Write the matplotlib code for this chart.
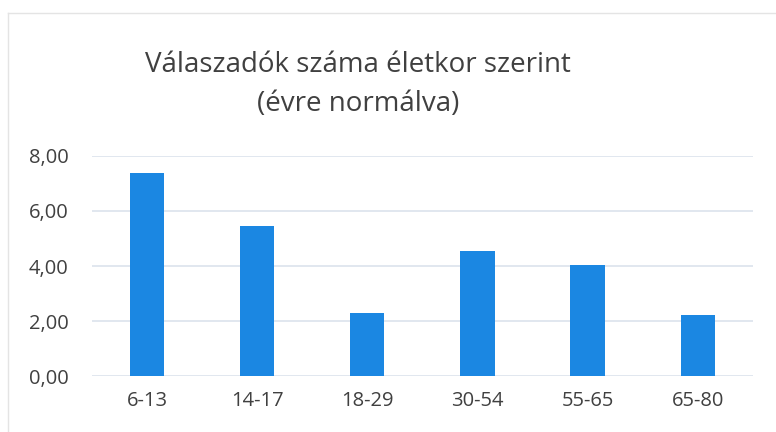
import matplotlib.pyplot as plt
import numpy as np

# age groups and respondents per year
age_groups = ['6-13', '14-17', '18-29', '30-54', '55-65', '65-80']
respondents = [7.38, 5.45, 2.30, 4.56, 4.05, 2.22]
y_ticks = [0, 2, 4, 6, 8]

plt.rcParams['font.family'] = ['Open Sans', 'DejaVu Sans']

fig = plt.figure(figsize=(7.76, 4.32), dpi=100)
ax = fig.add_axes([0.1186, 0.1296, 0.8514, 0.5093])

x = np.arange(len(age_groups))
ax.bar(x, respondents, width=0.31, color='#1B87E2', zorder=3)

ax.set_xlim(-0.5, len(age_groups) - 0.5)
ax.set_ylim(0, 8)
ax.set_yticks(y_ticks)
ax.set_yticklabels([f'{v:.2f}'.replace('.', ',') for v in y_ticks])
ax.set_xticks(x)
ax.set_xticklabels(age_groups)
ax.tick_params(length=0, labelsize=14.5, colors='#404040', pad=11)
ax.tick_params(axis='y', pad=17)
ax.grid(axis='y', color='#DCE3EC', lw=1.2, zorder=0)
for s in ax.spines.values():
    s.set_visible(False)

fig.text(0.461, 0.804, 'Válaszadók száma életkor szerint\n(évre normálva)',
         ha='center', va='center', fontsize=20, color='#404040', linespacing=1.5)

# faint frame of the chart area from the scan
fig.add_artist(plt.Line2D([0.01, 1.0], [0.97, 0.97], color='#E4E4E4', lw=1))
fig.add_artist(plt.Line2D([0.01, 0.01], [0.0, 0.97], color='#E4E4E4', lw=1))

fig.savefig('out.png', dpi=100)
